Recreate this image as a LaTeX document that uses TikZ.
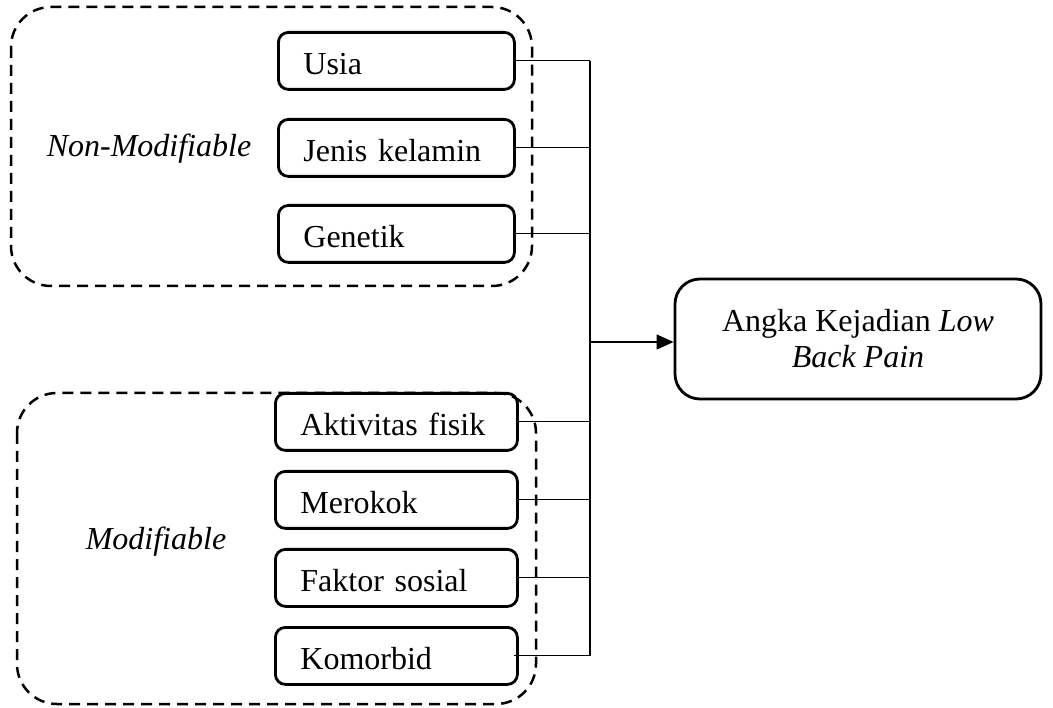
\documentclass[tikz,border=0pt]{standalone}
\usepackage{fontspec}
\setmainfont{Liberation Serif}
\usetikzlibrary{arrows.meta}
\begin{document}
\begin{tikzpicture}[x=1pt,y=-1pt,
  font=\fontsize{32}{36}\selectfont,
  factor/.style={draw, line width=2.8pt, rounded corners=10pt, inner xsep=25pt, inner ysep=0pt,
    text height=28pt, text depth=0pt, align=left, anchor=north west, minimum height=57pt},
  factortop/.style={factor, text width=186pt},
  factorbot/.style={factor, text width=192pt},
  group/.style={draw, line width=2.5pt, dash pattern=on 11pt off 7pt, rounded corners=40pt},
  conn/.style={line width=1.1pt},
  outbox/.style={draw, line width=2.8pt, rounded corners=25pt, minimum width=366pt, minimum height=120pt, align=center}]
\useasboundingbox (0,0) rectangle (1053,708);

% dashed groups
\draw[group] (11,7) rectangle (532,286);
\draw[group] (17,393) rectangle (536,704);

\node[anchor=base, font=\fontsize{32}{36}\selectfont\itshape] (nonmod) at (149,157) {Non-Modifiable};
\node[anchor=base, font=\fontsize{32}{36}\selectfont\itshape] (mod) at (156,550) {Modifiable};

% factors
\node[factortop] (usia) at (277,31) {Usia};
\node[factortop] (jenis) at (277,118) {Jenis kelamin};
\node[factortop] (gen) at (277,204) {Genetik};

\node[factorbot] (akt) at (274,392) {Aktivitas fisik};
\node[factorbot] (rok) at (274,470) {Merokok};
\node[factorbot] (sos) at (274,548) {Faktor sosial};
\node[factorbot] (kom) at (274,626) {Komorbid};

% outcome
\node[outbox] (out) at (858,339) {Angka Kejadian \textit{Low}\\\textit{Back Pain}};

% connectors
\coordinate (bus) at (590,342);
\draw[conn] (usia.east) -- (usia.east -| bus);
\draw[conn] (jenis.east) -- (jenis.east -| bus);
\draw[conn] (gen.east) -- (gen.east -| bus);
\draw[conn] (akt.east) -- (akt.east -| bus);
\draw[conn] (rok.east) -- (rok.east -| bus);
\draw[conn] (sos.east) -- (sos.east -| bus);
\draw[conn] ([xshift=-5pt]kom.east) -- (kom.east -| bus);
\draw[conn] (usia.east -| bus) -- (kom.east -| bus);
\draw[conn, -{Triangle[length=17pt,width=15pt]}] (bus) -- (bus -| out.west);
\end{tikzpicture}
\end{document}
